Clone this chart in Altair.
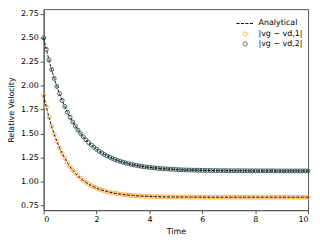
import altair as alt
import pandas as pd

time = [round(i * 0.1, 1) for i in range(101)]

v1 = [
    1.900, 1.779, 1.672, 1.577, 1.493, 1.418, 1.352, 1.293, 1.241, 1.195,
    1.154, 1.118, 1.086, 1.057, 1.032, 1.010, 0.990, 0.972, 0.957, 0.943,
    0.931, 0.920, 0.910, 0.902, 0.894, 0.887, 0.881, 0.876, 0.872, 0.867,
    0.864, 0.860, 0.858, 0.855, 0.853, 0.851, 0.849, 0.847, 0.846, 0.845,
    0.844, 0.843, 0.842, 0.841, 0.840, 0.840, 0.839, 0.839, 0.838, 0.838,
    0.838, 0.837, 0.837, 0.837, 0.837, 0.836, 0.836, 0.836, 0.836, 0.836,
] + [0.835] * 41

v2 = [
    2.500, 2.379, 2.269, 2.168, 2.076, 1.992, 1.916, 1.846, 1.782, 1.723,
    1.670, 1.621, 1.577, 1.536, 1.499, 1.466, 1.435, 1.406, 1.381, 1.357,
    1.336, 1.316, 1.298, 1.282, 1.267, 1.253, 1.241, 1.229, 1.219, 1.210,
    1.201, 1.193, 1.186, 1.179, 1.173, 1.168, 1.163, 1.158, 1.154, 1.150,
    1.147, 1.144, 1.141, 1.138, 1.135, 1.133, 1.131, 1.130, 1.128, 1.126,
    1.125, 1.123, 1.122, 1.121, 1.120, 1.119, 1.119, 1.118, 1.117, 1.117,
    1.116, 1.115, 1.115, 1.115, 1.114, 1.114, 1.113, 1.113, 1.113, 1.113,
    1.112, 1.112, 1.112, 1.112, 1.112, 1.112, 1.112, 1.111, 1.111, 1.111,
    1.111, 1.111, 1.111, 1.111, 1.111, 1.111, 1.111, 1.111, 1.110, 1.110,
    1.110, 1.110, 1.110, 1.110, 1.110, 1.110, 1.110, 1.110, 1.110, 1.110,
    1.110,
]

labels = ["Analytical", "|vg − vd,1|", "|vg − vd,2|"]
colors = ["#000000", "#FFA53A", "#2F4F4F"]
y_ticks = [0.75, 1.00, 1.25, 1.50, 1.75, 2.00, 2.25, 2.50, 2.75]
x_ticks = [0, 2, 4, 6, 8, 10]

rows_pts = []
rows_line = []
for lab, curve, vals in [(labels[1], 1, v1), (labels[2], 2, v2)]:
    for t, v in zip(time, vals):
        rows_pts.append({"time": t, "value": v, "label": lab})
        rows_line.append({"time": t, "value": v, "label": labels[0], "curve": curve})
df_pts = pd.DataFrame(rows_pts)
df_line = pd.DataFrame(rows_line)

x = alt.X("time:Q", title="Time",
          scale=alt.Scale(domain=[0, 10], nice=False, zero=False),
          axis=alt.Axis(values=x_ticks, format="d"))
y = alt.Y("value:Q", title="Relative Velocity",
          scale=alt.Scale(domain=[0.70, 2.80], nice=False, zero=False),
          axis=alt.Axis(values=y_ticks, format=".2f"))

color = alt.Color("label:N", title=None,
                  scale=alt.Scale(domain=labels, range=colors),
                  legend=alt.Legend(orient="top-right", offset=5))
shape = alt.Shape("label:N", title=None,
                  scale=alt.Scale(domain=labels, range=["stroke", "circle", "circle"]))
size = alt.Size("label:N", title=None,
                scale=alt.Scale(type="ordinal", domain=labels, range=[300, 16, 16]))
dash = alt.StrokeDash("label:N", title=None,
                      scale=alt.Scale(domain=labels, range=[[3, 1.5], [1, 0], [1, 0]]))

pts = alt.Chart(df_pts).mark_point(filled=False, strokeWidth=0.9, opacity=1).encode(
    x=x, y=y, color=color, shape=shape, size=size
)
line = alt.Chart(df_line).mark_line(strokeWidth=0.9).encode(
    x=x, y=y, color=color, strokeDash=dash, detail="curve:N"
)

chart = alt.layer(pts, line).properties(
    width=267, height=203,
    autosize=alt.AutoSizeParams(type="none"),
    padding={"left": 36, "top": 0, "right": 4, "bottom": 30},
).configure(font="DejaVu Sans").configure_view(
    stroke="#555555", strokeWidth=1
).configure_axis(
    grid=False, domainColor="#555555", tickColor="#555555", tickSize=3.5,
    labelFontSize=8, titleFontSize=8, labelColor="#000000", titleColor="#000000",
    titleFontWeight="normal", labelPadding=2, labelFont="DejaVu Sans", titleFont="DejaVu Sans"
).configure_axisX(titlePadding=4).configure_axisY(titlePadding=5).configure_legend(
    labelFontSize=8, labelFont="DejaVu Sans", symbolStrokeWidth=1,
    rowPadding=2, padding=0, labelColor="#000000", labelLimit=200
)

chart.save("out.html", embed_options={"renderer": "svg", "actions": False})
